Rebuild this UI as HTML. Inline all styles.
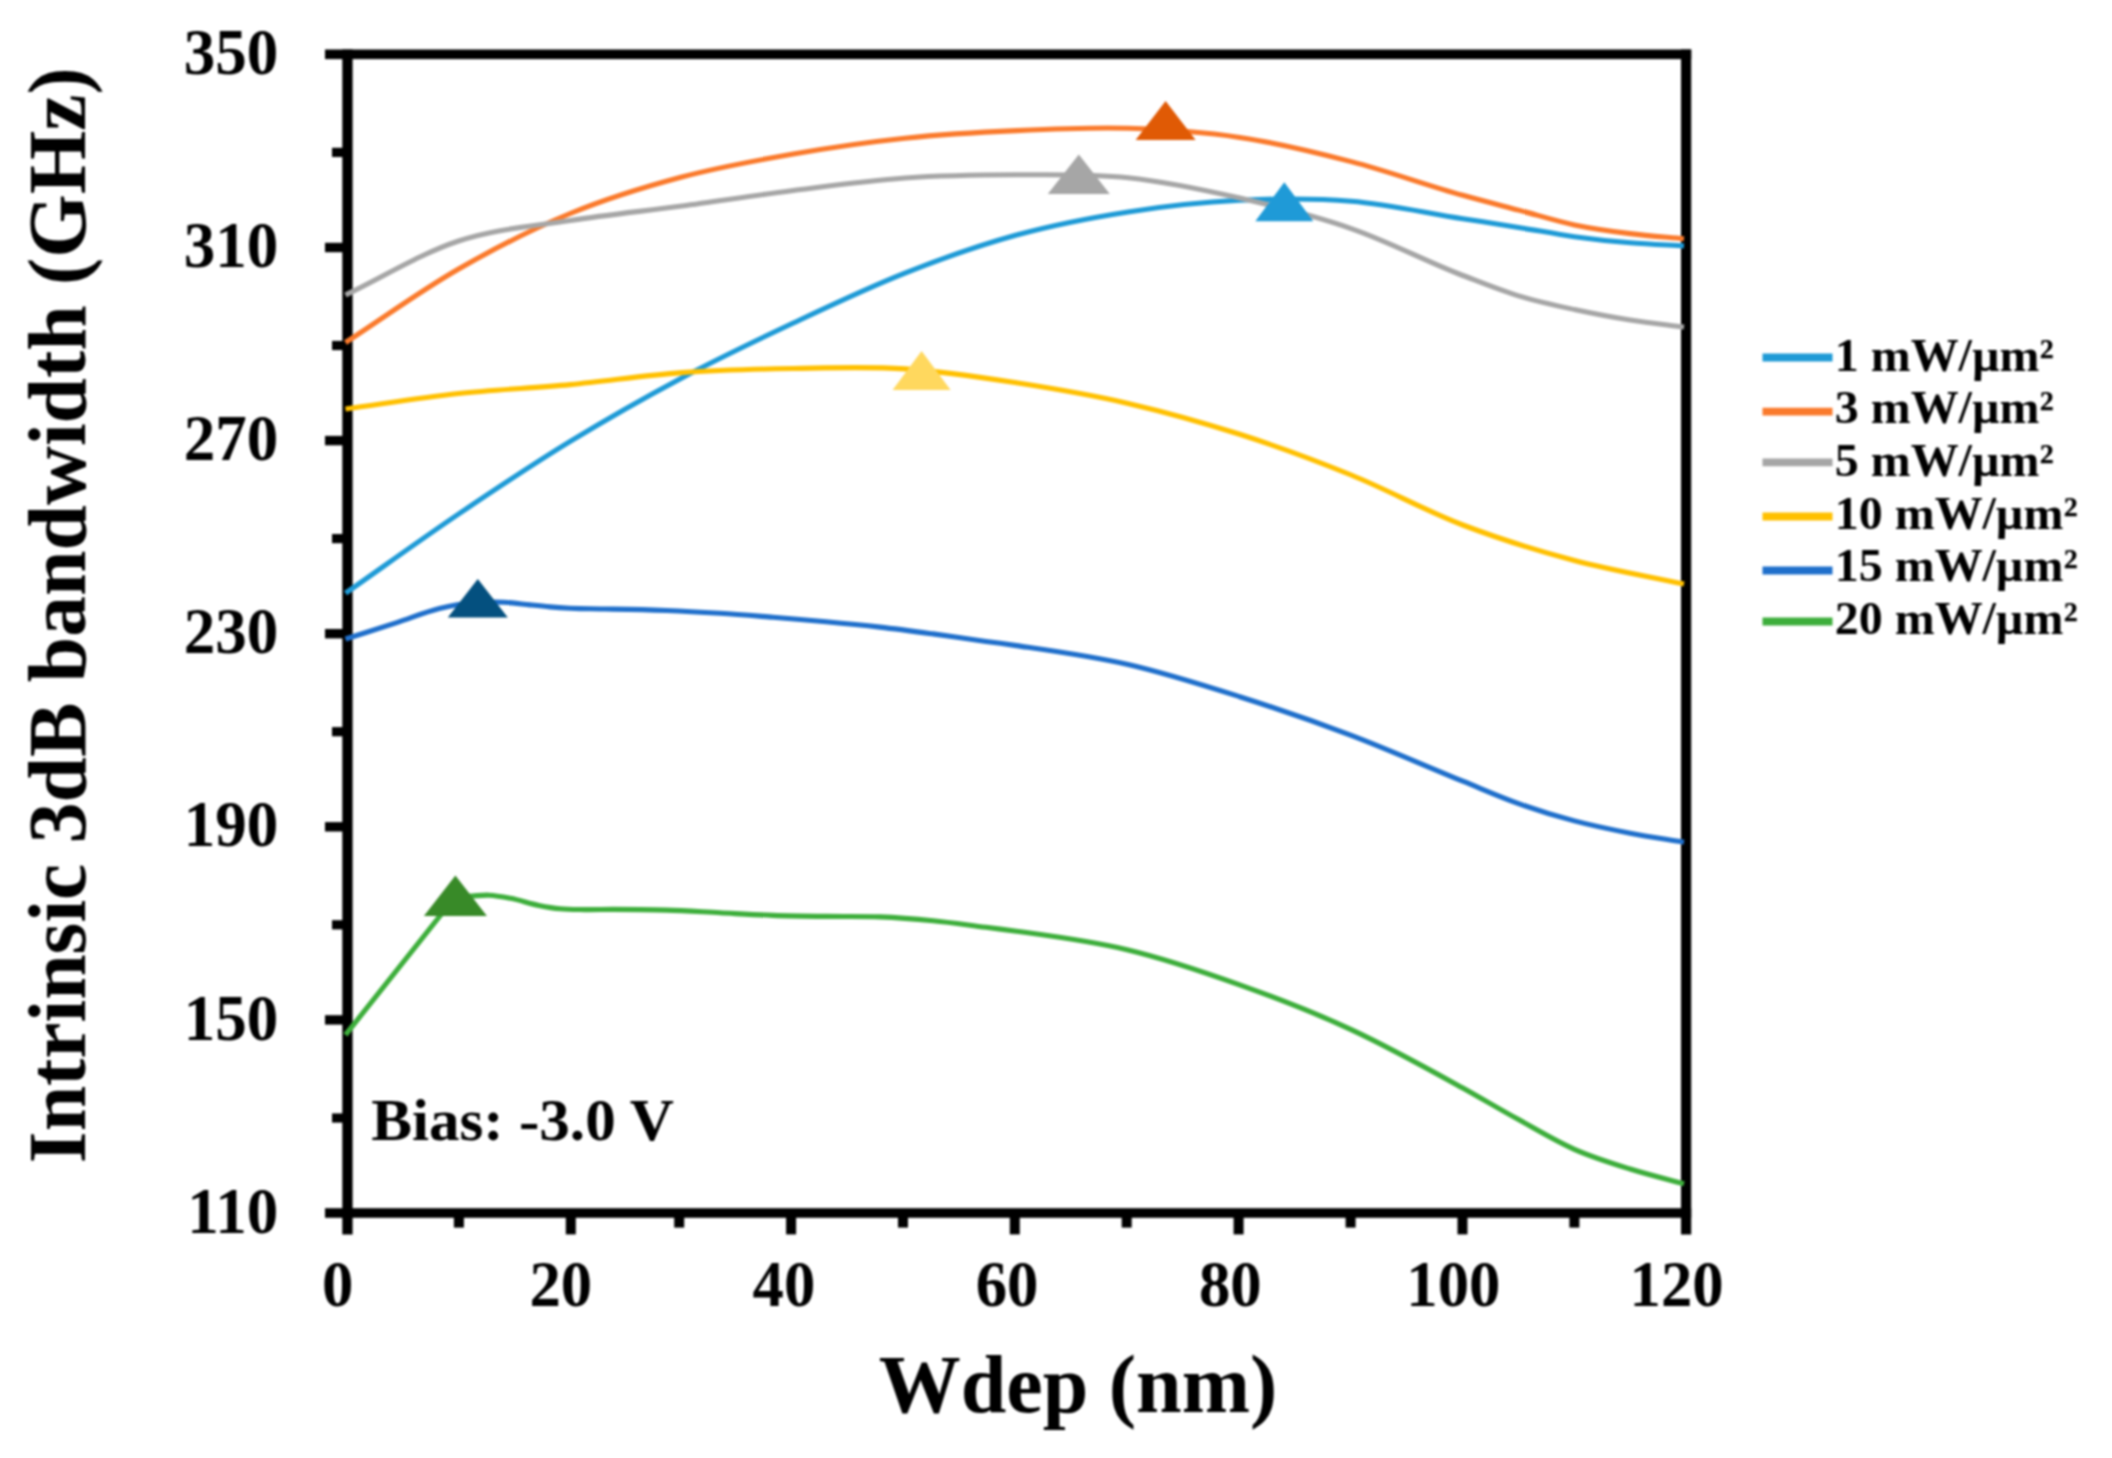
<!DOCTYPE html>
<html lang="en"><head><meta charset="utf-8"><title>Intrinsic 3dB bandwidth vs Wdep</title>
<style>
html,body{margin:0;padding:0;background:#fff;}
body{width:2112px;height:1458px;overflow:hidden;}
svg{display:block;filter:blur(0.8px);}
text{font-family:"Liberation Serif",serif;font-weight:700;fill:#000;}
.tk{font-size:65px;}
.ttl{font-size:82px;}
.lg{font-size:46px;}
.bias{font-size:59.5px;}
.ln{fill:none;stroke-width:5.1;stroke-linejoin:round;stroke-linecap:butt;}
.lgl{fill:none;stroke-width:7.8;}
</style></head><body>
<svg width="2112" height="1458" viewBox="0 0 2112 1458">
<rect width="2112" height="1458" fill="#fff"/>
<g fill="#000">
<rect x="325" y="49.5" width="1366.2" height="9.6"/>
<rect x="325" y="1208.2" width="1366.2" height="9.6"/>
<rect x="342.3" y="49.5" width="10.3" height="1185"/>
<rect x="1681" y="49.5" width="10.2" height="1185"/>
<rect x="325" y="242.8" width="20" height="9.4"/>
<rect x="325" y="435.9" width="20" height="9.4"/>
<rect x="325" y="629.0" width="20" height="9.4"/>
<rect x="325" y="822.1" width="20" height="9.4"/>
<rect x="325" y="1015.2" width="20" height="9.4"/>
<rect x="332" y="147.8" width="13" height="9.2"/>
<rect x="332" y="340.9" width="13" height="9.2"/>
<rect x="332" y="534.0" width="13" height="9.2"/>
<rect x="332" y="727.1" width="13" height="9.2"/>
<rect x="332" y="920.2" width="13" height="9.2"/>
<rect x="332" y="1113.4" width="13" height="9.2"/>
<rect x="565.8" y="1213" width="10" height="21.4"/>
<rect x="786.1" y="1213" width="10" height="21.4"/>
<rect x="1009.8" y="1213" width="10" height="21.4"/>
<rect x="1233.6" y="1213" width="10" height="21.4"/>
<rect x="1457.5" y="1213" width="10" height="21.4"/>
<rect x="453.9" y="1213" width="10" height="14.6"/>
<rect x="674.2" y="1213" width="10" height="14.6"/>
<rect x="898.0" y="1213" width="10" height="14.6"/>
<rect x="1121.7" y="1213" width="10" height="14.6"/>
<rect x="1345.6" y="1213" width="10" height="14.6"/>
<rect x="1569.4" y="1213" width="10" height="14.6"/>
</g>
<path class="ln" stroke="#1E9AD6" d="M345.5 593.2 C383.2 566.8 420.9 539.5 458.6 514.0 C495.8 488.9 533.0 464.1 570.2 441.4 C607.4 418.7 644.6 397.6 681.8 377.9 C718.9 358.2 756.1 340.5 793.3 323.0 C830.5 305.5 867.7 287.8 904.9 273.1 C942.1 258.4 979.3 245.2 1016.5 235.0 C1053.7 224.8 1090.9 217.7 1128.1 211.9 C1165.3 206.1 1202.5 202.1 1239.7 200.3 C1276.9 198.5 1314.1 198.1 1351.2 201.2 C1388.4 204.3 1425.6 212.9 1462.8 218.7 C1481.4 221.6 1500.0 224.4 1518.6 227.4 C1537.2 230.4 1555.8 234.1 1574.4 236.7 C1593.0 239.3 1611.6 241.3 1630.2 242.8 C1648.1 244.3 1666.1 244.9 1684.0 245.9"/>
<path class="ln" stroke="#FA7A2C" d="M345.5 342.5 C383.2 318.0 420.9 290.6 458.6 269.0 C495.8 247.7 533.0 228.8 570.2 213.5 C607.4 198.2 644.6 186.9 681.8 177.0 C718.9 167.1 756.1 160.5 793.3 154.0 C830.5 147.5 867.7 142.1 904.9 138.2 C942.1 134.3 979.3 132.2 1016.5 130.6 C1053.7 128.9 1090.9 127.2 1128.1 128.3 C1165.3 129.4 1202.5 131.9 1239.7 137.4 C1276.9 142.9 1314.1 151.9 1351.2 161.6 C1388.4 171.2 1425.6 185.0 1462.8 195.3 C1481.4 200.5 1500.0 205.2 1518.6 210.1 C1537.2 215.0 1555.8 221.0 1574.4 224.9 C1593.0 228.8 1611.6 231.3 1630.2 233.6 C1648.1 235.9 1666.1 237.1 1684.0 238.8"/>
<path class="ln" stroke="#A6A6A6" d="M345.5 295.0 C383.2 277.0 420.9 253.4 458.6 241.0 C495.8 228.7 533.0 226.3 570.2 220.5 C607.4 214.7 644.6 211.0 681.8 206.0 C718.9 201.0 756.1 195.2 793.3 190.5 C830.5 185.8 867.7 180.6 904.9 178.0 C942.1 175.4 979.3 174.9 1016.5 174.8 C1053.7 174.8 1090.9 173.8 1128.1 177.7 C1165.3 181.6 1202.5 189.5 1239.7 198.0 C1276.9 206.5 1314.1 215.7 1351.2 228.6 C1388.4 241.5 1425.6 261.2 1462.8 275.5 C1481.4 282.6 1500.0 290.2 1518.6 295.9 C1537.2 301.6 1555.8 305.5 1574.4 309.5 C1593.0 313.5 1611.6 317.1 1630.2 320.0 C1648.1 322.8 1666.1 324.7 1684.0 327.0"/>
<path class="ln" stroke="#FFC000" d="M345.5 409.0 C383.2 403.8 420.9 397.6 458.6 393.5 C495.8 389.5 533.0 388.1 570.2 384.6 C607.4 381.1 644.6 375.3 681.8 372.6 C718.9 369.9 756.1 369.1 793.3 368.5 C830.5 367.9 867.7 366.5 904.9 368.9 C942.1 371.3 979.3 377.1 1016.5 382.8 C1053.7 388.6 1090.9 394.8 1128.1 403.4 C1165.3 412.0 1202.5 422.4 1239.7 434.3 C1276.9 446.2 1314.1 459.9 1351.2 475.0 C1388.4 490.1 1425.6 510.8 1462.8 525.0 C1500.0 539.2 1537.2 550.6 1574.4 560.5 C1610.9 570.2 1647.5 576.2 1684.0 584.0"/>
<path class="ln" stroke="#1F6FCB" d="M345.5 639.0 C362.6 633.5 379.7 628.2 396.8 622.6 C411.0 618.0 425.2 612.1 439.4 608.6 C445.8 607.0 452.2 605.6 458.6 604.6 C465.7 603.5 472.9 603.0 480.0 602.6 C487.8 602.2 495.6 602.0 503.4 602.3 C512.3 602.6 521.1 604.0 530.0 604.9 C536.7 605.6 543.3 606.3 550.0 606.9 C556.7 607.5 563.3 607.9 570.0 608.2 C576.7 608.5 583.3 608.7 590.0 608.8 C597.7 609.0 605.3 609.0 613.0 609.1 C630.8 609.4 648.7 609.8 666.5 610.5 C684.3 611.2 702.2 612.2 720.0 613.3 C737.7 614.4 755.3 615.9 773.0 617.3 C790.7 618.7 808.3 620.2 826.0 621.8 C844.0 623.4 862.0 625.1 880.0 627.1 C897.7 629.1 915.3 631.5 933.0 633.9 C950.7 636.3 968.3 638.9 986.0 641.4 C996.2 642.8 1006.3 644.1 1016.5 645.6 C1053.7 651.0 1090.9 656.0 1128.1 664.5 C1165.3 673.0 1202.5 684.9 1239.7 696.7 C1276.9 708.5 1314.0 721.3 1351.2 735.4 C1388.4 749.5 1425.6 766.2 1462.8 781.2 C1481.4 788.7 1500.0 797.0 1518.6 803.6 C1537.2 810.2 1555.8 816.0 1574.4 820.9 C1593.0 825.8 1611.6 829.6 1630.2 833.2 C1648.1 836.7 1666.1 839.2 1684.0 842.2"/>
<path class="ln" stroke="#3DAE3B" d="M345.5 1034.8 L455.0 897.0  C460.7 896.7 466.3 896.3 472.0 896.0 C477.7 895.7 483.3 895.0 489.0 895.2 C496.2 895.5 503.3 896.9 510.5 898.3 C520.0 900.1 529.4 903.5 538.9 905.4 C545.9 906.8 553.0 908.1 560.0 908.8 C568.3 909.7 576.7 909.5 585.0 909.6 C594.3 909.7 603.7 909.4 613.0 909.4 C622.0 909.4 631.0 909.5 640.0 909.6 C648.8 909.7 657.7 909.8 666.5 910.1 C684.3 910.6 702.2 911.9 720.0 912.8 C737.7 913.7 755.3 914.8 773.0 915.4 C790.7 916.0 808.3 916.2 826.0 916.4 C844.0 916.7 862.0 916.2 880.0 916.9 C897.7 917.6 915.3 919.0 933.0 920.7 C950.7 922.4 968.3 925.1 986.0 927.3 C996.2 928.6 1006.3 929.8 1016.5 931.2 C1053.7 936.3 1090.9 941.0 1128.1 949.9 C1165.3 958.8 1202.5 971.5 1239.7 984.8 C1276.9 998.1 1314.1 1012.4 1351.2 1029.6 C1388.4 1046.8 1425.6 1067.5 1462.8 1088.0 C1481.4 1098.3 1500.0 1109.4 1518.6 1119.6 C1537.2 1129.8 1555.8 1141.1 1574.4 1149.3 C1593.0 1157.5 1611.6 1163.2 1630.2 1169.0 C1648.1 1174.6 1666.1 1178.9 1684.0 1183.8"/>
<polygon fill="#1F9AD7" points="1284.3,182.3 1255.3,221.3 1313.3,221.3"/>
<polygon fill="#E05A05" points="1165.6,101.1 1135.6,140.1 1195.6,140.1"/>
<polygon fill="#A6A6A6" points="1078.8,154.4 1047.8,193.9 1109.8,193.9"/>
<polygon fill="#FFD85E" points="921.6,351.0 892.6,390.0 950.6,390.0"/>
<polygon fill="#04507F" points="477.8,579.1 447.8,617.6 507.8,617.6"/>
<polygon fill="#388A28" points="455.4,875.6 423.9,916.0 486.9,916.0"/>
<text class="tk" transform="translate(278.3 74.0) scale(0.97 1)" text-anchor="end">350</text>
<text class="tk" transform="translate(278.3 267.1) scale(0.97 1)" text-anchor="end">310</text>
<text class="tk" transform="translate(278.3 460.2) scale(0.97 1)" text-anchor="end">270</text>
<text class="tk" transform="translate(278.3 653.3) scale(0.97 1)" text-anchor="end">230</text>
<text class="tk" transform="translate(278.3 846.4) scale(0.97 1)" text-anchor="end">190</text>
<text class="tk" transform="translate(278.3 1039.5) scale(0.97 1)" text-anchor="end">150</text>
<text class="tk" transform="translate(278.3 1232.6) scale(0.97 1)" text-anchor="end">110</text>
<text class="tk" transform="translate(337.6 1306.3) scale(0.965 1)" text-anchor="middle">0</text>
<text class="tk" transform="translate(560.8 1306.3) scale(0.965 1)" text-anchor="middle">20</text>
<text class="tk" transform="translate(783.9 1306.3) scale(0.965 1)" text-anchor="middle">40</text>
<text class="tk" transform="translate(1007.1 1306.3) scale(0.965 1)" text-anchor="middle">60</text>
<text class="tk" transform="translate(1230.3 1306.3) scale(0.965 1)" text-anchor="middle">80</text>
<text class="tk" transform="translate(1453.4 1306.3) scale(0.965 1)" text-anchor="middle">100</text>
<text class="tk" transform="translate(1676.6 1306.3) scale(0.965 1)" text-anchor="middle">120</text>
<text class="ttl" x="1078" y="1412" text-anchor="middle">Wdep (nm)</text>
<text class="ttl" transform="translate(84.5 615.2) rotate(-90) scale(0.996 1)" text-anchor="middle">Intrinsic 3dB bandwidth (GHz)</text>
<text class="bias" transform="translate(371.3 1139.6) scale(1.027 1)">Bias: -3.0 V</text>
<path class="lgl" stroke="#1E9AD6" d="M1762.5 357.5 H1832.5"/>
<text class="lg" transform="translate(1834.8 370.5) scale(1.042 1)">1 mW/µm²</text>
<path class="lgl" stroke="#FA7A2C" d="M1762.5 411.6 H1832.5"/>
<text class="lg" transform="translate(1834.8 423.2) scale(1.042 1)">3 mW/µm²</text>
<path class="lgl" stroke="#A6A6A6" d="M1762.5 462.4 H1832.5"/>
<text class="lg" transform="translate(1834.8 475.9) scale(1.042 1)">5 mW/µm²</text>
<path class="lgl" stroke="#FFC000" d="M1762.5 516.5 H1832.5"/>
<text class="lg" transform="translate(1834.8 528.6) scale(1.042 1)">10 mW/µm²</text>
<path class="lgl" stroke="#1F6FCB" d="M1762.5 570.5 H1832.5"/>
<text class="lg" transform="translate(1834.8 581.3) scale(1.042 1)">15 mW/µm²</text>
<path class="lgl" stroke="#3DAE3B" d="M1762.5 621.5 H1832.5"/>
<text class="lg" transform="translate(1834.8 634.0) scale(1.042 1)">20 mW/µm²</text>
</svg>
</body></html>
